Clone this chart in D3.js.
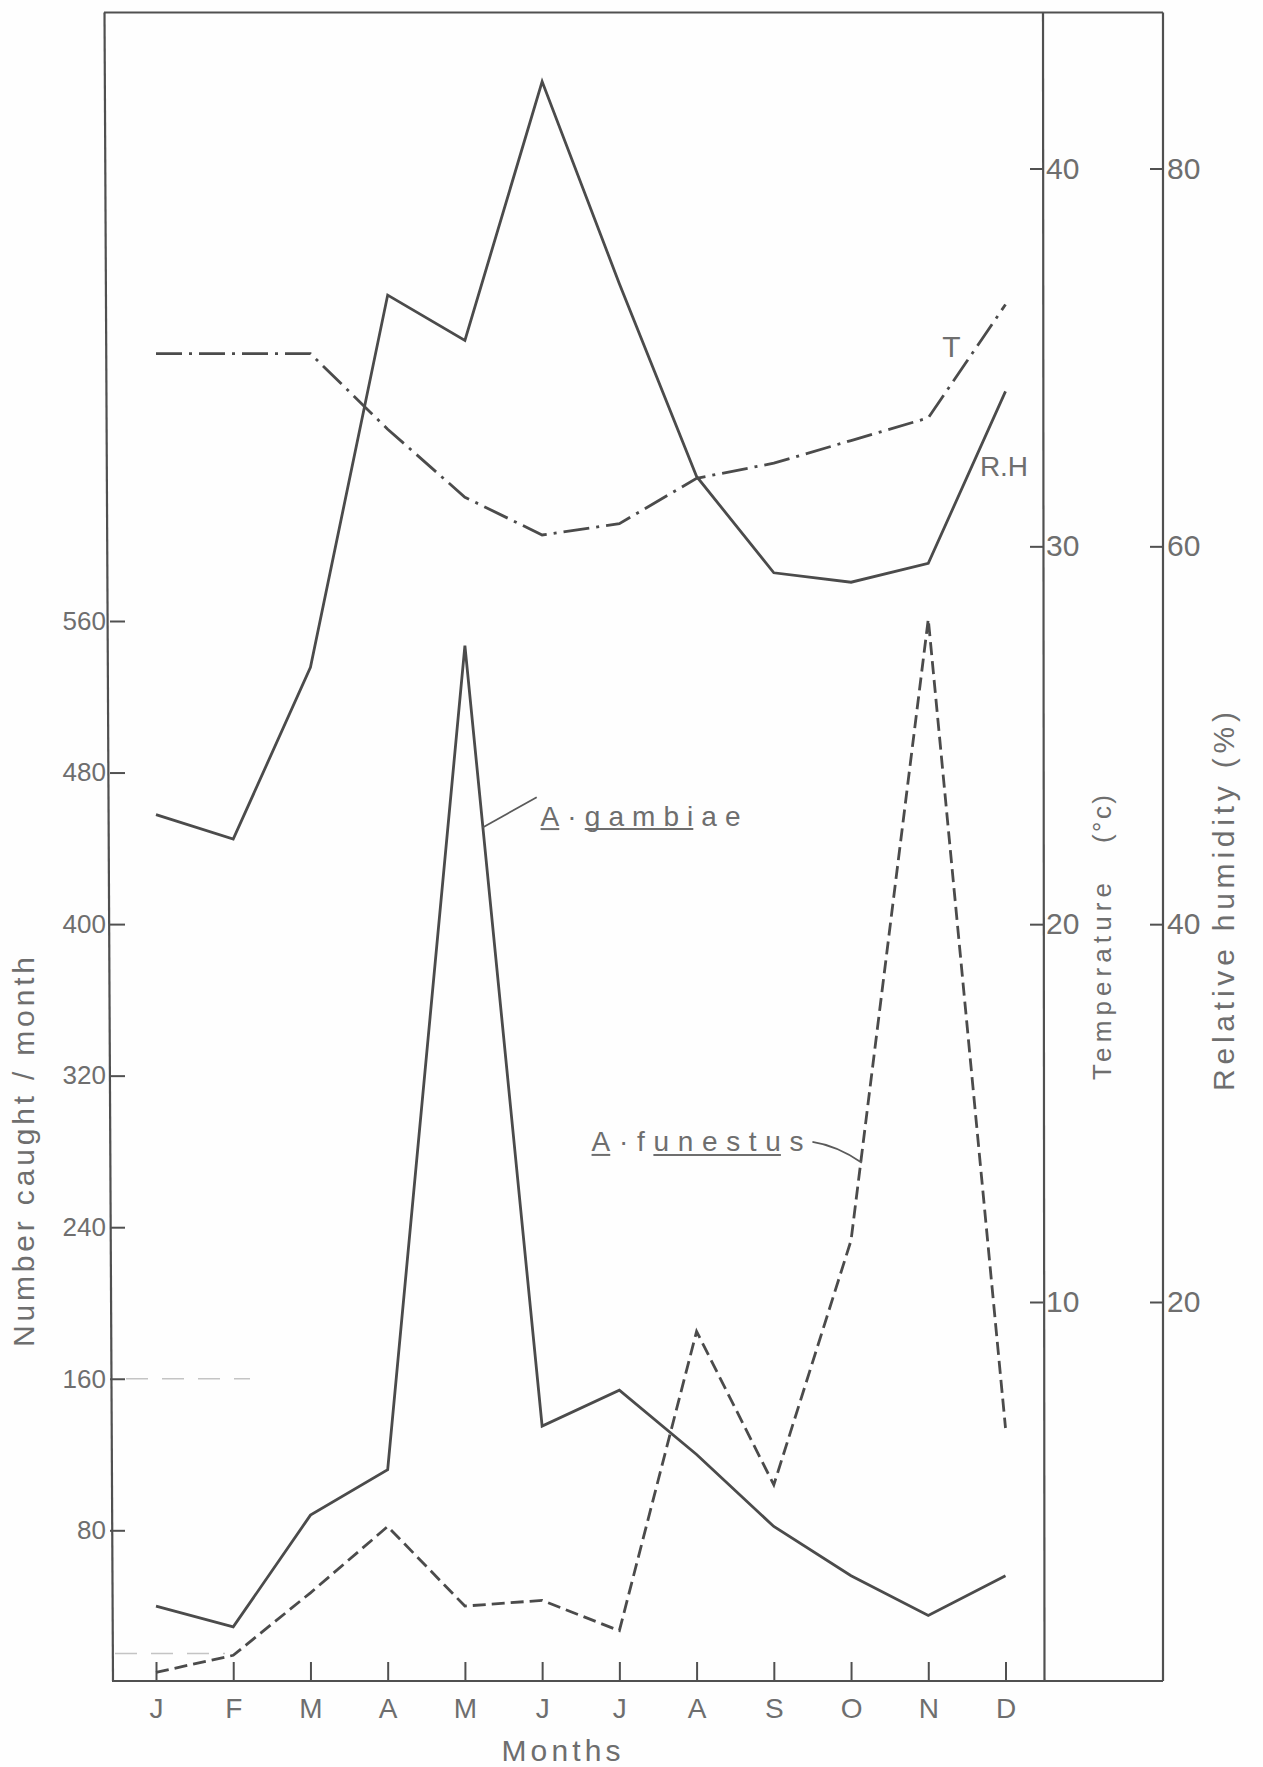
<!DOCTYPE html>
<html><head><meta charset="utf-8">
<script src="https://cdn.jsdelivr.net/npm/d3@7"></script>
<style>
html,body{margin:0;padding:0;background:#fff;}
svg{display:block;}
text{font-family:"Liberation Sans",Arial,sans-serif;fill:#6e6e6e;}
</style></head><body>
<svg id="chart" width="1263" height="1767"></svg>
<script>
// ---- data ----
const months = ["J","F","M","A","M","J","J","A","S","O","N","D"];
const gambiae = [40, 29, 88, 112, 547, 135, 154, 120, 82, 56, 35, 56];
const funestus = [5, 14, 47, 82, 40, 43, 27, 185, 104, 233, 561, 134];
const temperature = [35.1, 35.1, 35.1, 33.1, 31.3, 30.3, 30.6, 31.8, 32.2, 32.8, 33.4, 36.4];
const humidity = [45.8, 44.5, 53.6, 73.3, 70.9, 84.6, 73.9, 63.7, 58.6, 58.1, 59.1, 68.2];
const countTicks = [80, 160, 240, 320, 400, 480, 560];
const tempTicks = [10, 20, 30, 40];
const rhTicks = [20, 40, 60, 80];

// ---- layout ----
const svg = d3.select("#chart");
svg.append("rect").attr("width",1263).attr("height",1767).attr("fill","#fefefe");
const frame = {left:110, top:12.5, right:1163, bottom:1681, temp:1043};
const lineColor = "#4b4b4b";

const x = d3.scalePoint().domain(d3.range(12)).range([156, 1005.5]);
const yL = d3.scaleLinear().domain([80, 560]).range([1530.3, 621]);
const yT = d3.scaleLinear().domain([10, 40]).range([1302, 168.5]);
const yRH = d3.scaleLinear().domain([20, 80]).range([1302, 168.5]);
const xi = i => x(0) + i * x.step();

// faint scan guide dashes
const faint = svg.append("g").attr("stroke","#c4c4c4").attr("stroke-width",1.5).attr("stroke-dasharray","22,14");
faint.append("line").attr("x1",frame.left+16).attr("x2",250).attr("y1",yL(160)).attr("y2",yL(160));
faint.append("line").attr("x1",frame.left+5).attr("x2",225).attr("y1",yL(15)).attr("y2",yL(15));

// frame
const fr = svg.append("g").attr("stroke","#505050").attr("stroke-width",2.2).attr("fill","none");
fr.append("line").attr("x1",104).attr("y1",frame.top).attr("x2",frame.right).attr("y2",frame.top);
fr.append("line").attr("x1",104.5).attr("y1",frame.top).attr("x2",113).attr("y2",frame.bottom);
fr.append("line").attr("x1",112).attr("y1",frame.bottom).attr("x2",frame.right).attr("y2",frame.bottom);
fr.append("line").attr("x1",frame.right).attr("y1",frame.top).attr("x2",frame.right).attr("y2",frame.bottom);
fr.append("line").attr("x1",frame.temp).attr("y1",frame.top).attr("x2",frame.temp+1.5).attr("y2",frame.bottom);

function styleAxis(g, fs){
  g.select(".domain").remove();
  g.selectAll(".tick line").attr("stroke","#505050").attr("stroke-width",2);
  g.selectAll(".tick text").attr("fill","#6e6e6e").attr("font-size",fs)
    .attr("font-family","'Liberation Sans',Arial,sans-serif");
}

// left axis
svg.append("g").attr("transform",`translate(${frame.left},0)`)
  .call(d3.axisLeft(yL).tickValues(countTicks).tickSizeInner(-15).tickSizeOuter(0).tickPadding(4))
  .call(g => styleAxis(g, 26));

// temperature axis
svg.append("g").attr("transform",`translate(${frame.temp},0)`)
  .call(d3.axisRight(yT).tickValues(tempTicks).tickSizeInner(-13).tickSizeOuter(0).tickPadding(3))
  .call(g => styleAxis(g, 30));

// RH axis
svg.append("g").attr("transform",`translate(${frame.right},0)`)
  .call(d3.axisRight(yRH).tickValues(rhTicks).tickSizeInner(-13).tickSizeOuter(0).tickPadding(4))
  .call(g => styleAxis(g, 30));

// month axis
svg.append("g").attr("transform",`translate(0,${frame.bottom})`)
  .call(d3.axisBottom(x).tickFormat(i => months[i]).tickSizeInner(-19).tickSizeOuter(0).tickPadding(17))
  .call(g => styleAxis(g, 28));

// series
const lineL = d3.line().x((d,i)=>x(i)).y(d=>yL(d));
const lineT = d3.line().x((d,i)=>x(i)).y(d=>yT(d));
const lineRH = d3.line().x((d,i)=>x(i)).y(d=>yRH(d));

svg.append("path").datum(humidity).attr("d",lineRH).attr("fill","none")
  .attr("stroke",lineColor).attr("stroke-width",2.8);
svg.append("path").datum(temperature).attr("d",lineT).attr("fill","none")
  .attr("stroke",lineColor).attr("stroke-width",2.8).attr("stroke-dasharray","26,7,3,7");
svg.append("path").datum(gambiae).attr("d",lineL).attr("fill","none")
  .attr("stroke",lineColor).attr("stroke-width",2.8);
svg.append("path").datum(funestus).attr("d",lineL).attr("fill","none")
  .attr("stroke",lineColor).attr("stroke-width",2.8).attr("stroke-dasharray","13,6");

// annotations
const ann = svg.append("g");
ann.append("text").attr("x",xi(10.3)).attr("y",yT(35.0)).attr("text-anchor","middle")
  .attr("font-size",30).text("T");
ann.append("text").attr("x",xi(10.67)).attr("y",yRH(63.7)).attr("font-size",28)
  .attr("textLength",48).attr("lengthAdjust","spacing").text("R.H");

function underline(textSel, ranges){
  const node = textSel.node();
  const y = +textSel.attr("y") + 3.5;
  ranges.forEach(([a,b]) => {
    const ea = node.getExtentOfChar(a), eb = node.getExtentOfChar(b);
    ann.append("line").attr("x1",ea.x).attr("x2",eb.x+eb.width).attr("y1",y).attr("y2",y)
      .attr("stroke","#6e6e6e").attr("stroke-width",2);
  });
}

ann.append("line").attr("x1",xi(4.23)).attr("y1",yL(451)).attr("x2",xi(4.93)).attr("y2",yL(467))
  .attr("stroke","#5a5a5a").attr("stroke-width",1.8);
const tg = ann.append("text").attr("x",xi(4.98)).attr("y",yL(452)).attr("font-size",28)
  .attr("textLength",200).attr("lengthAdjust","spacing").text("A·gambiae");
underline(tg, [[0,0],[2,6]]);

const tf = ann.append("text").attr("x",xi(5.64)).attr("y",yL(280)).attr("font-size",28)
  .attr("textLength",212).attr("lengthAdjust","spacing").text("A·funestus");
underline(tf, [[0,0],[3,8]]);
ann.append("path").attr("d",`M${xi(8.50)},${yL(285)} Q${xi(8.82)},${yL(283)} ${xi(9.14)},${yL(274)}`)
  .attr("fill","none").attr("stroke","#5a5a5a").attr("stroke-width",1.8);

// axis titles
svg.append("text").attr("transform","translate(34,1152) rotate(-90)").attr("text-anchor","middle")
  .attr("font-size",30).attr("textLength",390).attr("lengthAdjust","spacing").text("Number caught / month");
svg.append("text").attr("transform","translate(1111,981.5) rotate(-90)").attr("text-anchor","middle")
  .attr("font-size",26).attr("textLength",197).attr("lengthAdjust","spacing").text("Temperature");
svg.append("text").attr("transform","translate(1111,819) rotate(-90)").attr("text-anchor","middle")
  .attr("font-size",26).attr("textLength",48).attr("lengthAdjust","spacing").text("(°c)");
svg.append("text").attr("transform","translate(1234,901.5) rotate(-90)").attr("text-anchor","middle")
  .attr("font-size",30).attr("textLength",379).attr("lengthAdjust","spacing").text("Relative humidity (%)");
svg.append("text").attr("x",561).attr("y",1761).attr("text-anchor","middle")
  .attr("font-size",30).attr("textLength",119).attr("lengthAdjust","spacing").text("Months");
</script>
</body></html>
